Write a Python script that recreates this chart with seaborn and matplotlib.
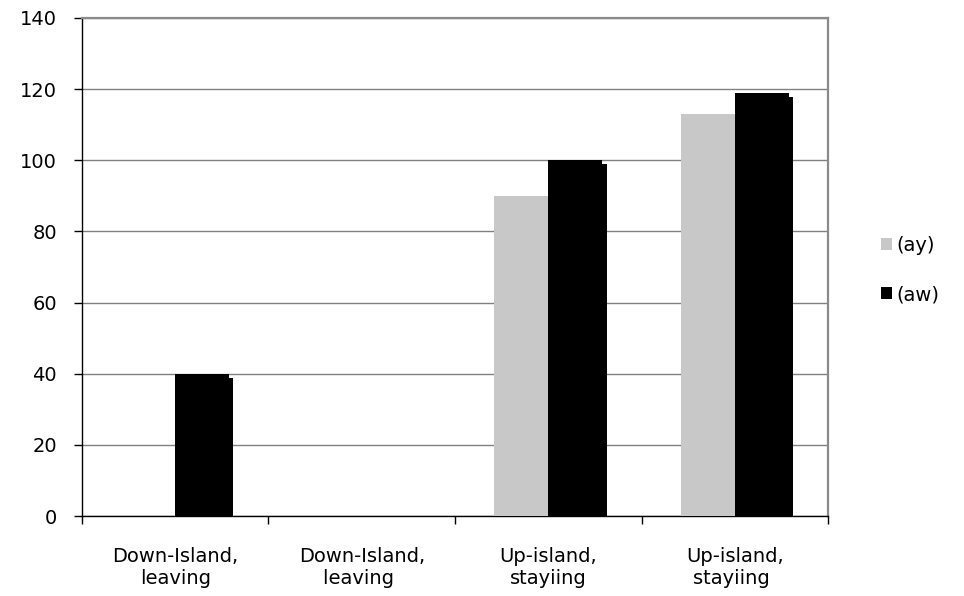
import matplotlib
matplotlib.use("Agg")
import matplotlib.pyplot as plt
import matplotlib.patheffects as pe
from matplotlib.ticker import FixedLocator, NullFormatter
import seaborn as sns
import pandas as pd

categories = ["Down-Island,\nleaving", "Down-Island,\nleaving ", "Up-island,\nstayiing", "Up-island,\nstayiing "]
series_names = ["(ay)", "(aw)"]
ay_values = [0, 0, 90, 113]
aw_values = [40, 0, 100, 119]
y_ticks = [0, 20, 40, 60, 80, 100, 120, 140]

df = pd.DataFrame({
    "category": categories * 2,
    "series": [series_names[0]] * 4 + [series_names[1]] * 4,
    "value": ay_values + aw_values,
})

sns.set_style("white")
plt.rcParams["font.family"] = ["DejaVu Sans"]
plt.rcParams["text.color"] = "black"
plt.rcParams["xtick.color"] = "black"
plt.rcParams["ytick.color"] = "black"

fig = plt.figure(figsize=(9.64, 5.96), dpi=100)
ax = fig.add_axes([0.085, 0.134, 0.774, 0.836])

sns.barplot(data=df, x="category", y="value", hue="series",
            order=categories, hue_order=series_names,
            palette=["#c8c8c8", "#000000"], width=0.58,
            saturation=1, linewidth=0, errorbar=None, ax=ax, zorder=3)

# offset drop shadow on the bars
for patch in ax.patches:
    patch.set_path_effects([
        pe.SimplePatchShadow(offset=(3, -3), shadow_rgbFace="black", alpha=1.0),
        pe.Normal(),
    ])

ax.set_xlim(-0.5, 3.5)
ax.set_ylim(0, 140)
ax.set_yticks(y_ticks)
ax.set_xlabel("")
ax.set_ylabel("")

ax.yaxis.grid(True, color="#808080", linewidth=1.0, zorder=0)
ax.set_axisbelow(True)

for side in ["top", "right"]:
    ax.spines[side].set_color("#8a8a8a")
    ax.spines[side].set_linewidth(1.6)
for side in ["left", "bottom"]:
    ax.spines[side].set_color("#000000")
    ax.spines[side].set_linewidth(1.0)

ax.tick_params(axis="y", which="major", direction="out", length=6, width=1,
               color="black", labelsize=14, pad=12, left=True, labelcolor="black")
ax.tick_params(axis="x", which="major", length=0, labelsize=14, pad=22,
               labelcolor="black")
ax.xaxis.set_minor_locator(FixedLocator([-0.5, 0.5, 1.5, 2.5, 3.5]))
ax.xaxis.set_minor_formatter(NullFormatter())
ax.tick_params(axis="x", which="minor", direction="out", length=6, width=1,
               color="black", bottom=True)

leg = ax.legend(loc="center left", bbox_to_anchor=(881 / 964, 1 - 270 / 596),
                bbox_transform=fig.transFigure, frameon=False,
                fontsize=14, handlelength=0.57, handleheight=0.57,
                handletextpad=0.2, labelspacing=1.55,
                borderpad=0, borderaxespad=0)
for h in leg.legend_handles:
    h.set_path_effects([])
for t in leg.get_texts():
    t.set_color("black")

fig.savefig("out.png", dpi=100)
